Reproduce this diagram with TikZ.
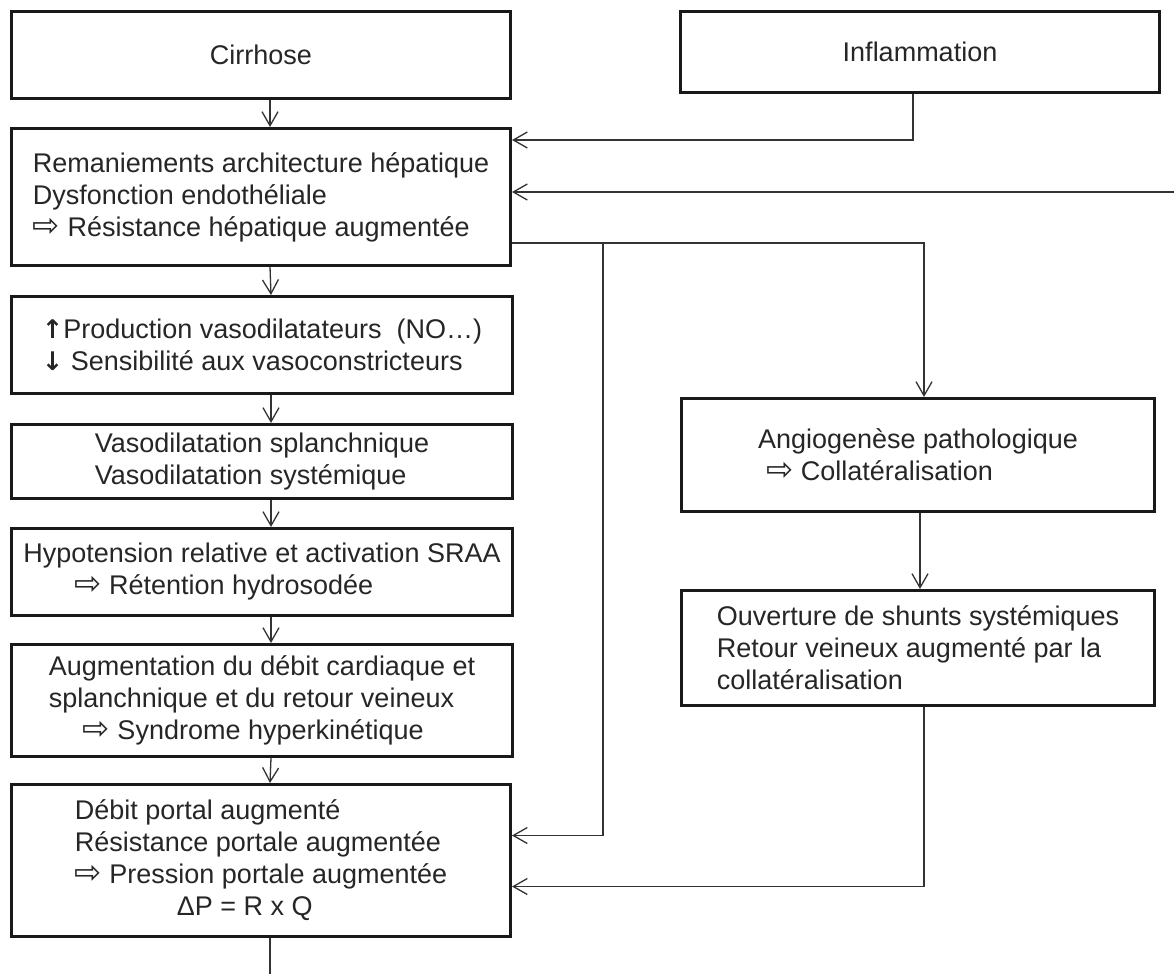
\documentclass[tikz,border=0pt]{standalone}
\usepackage{fontspec}
\setmainfont{Liberation Sans}
\newfontfamily\symfont[Scale=1.2]{DejaVu Sans}
\newfontfamily\flechefont[Scale=0.95]{DejaVu Sans}
\usetikzlibrary{arrows.meta}
\newcommand{\impl}{{\symfont ⇨}}

\begin{document}
\begin{tikzpicture}[x=1pt, y=-1pt,
    boite/.style={draw=black!90, line width=3pt, inner sep=0pt, align=left,
        text=black!85, font=\fontsize{27}{32}\selectfont},
    fleche/.style={draw=black!80, line width=1.3pt,
        -{Straight Barb[length=14pt,width=16pt]}},
    trait/.style={draw=black!80, line width=1.3pt}]
    \useasboundingbox[fill=white] (0,0) rectangle (1174,974);

    % left column
    \node[boite, minimum width=499pt, minimum height=87pt] (cirrhose) at (261,55) {\raisebox{-6pt}{Cirrhose}};
    \node[boite, minimum width=499pt, minimum height=137pt] (remaniements) at (261,197)
        {Remaniements architecture hépatique\\Dysfonction endothéliale\\\impl{} Résistance hépatique augmentée};
    \node[boite, minimum width=501pt, minimum height=97pt] (production) at (262,345)
        {{\flechefont\bfseries ↑}Production vasodilatateurs\ \ (NO…)\\{\flechefont\bfseries ↓} Sensibilité aux vasoconstricteurs};
    \node[boite, minimum width=501pt, minimum height=74pt] (vasodil) at (262,461.5)
        {Vasodilatation splanchnique\\Vasodilatation systémique};
    \node[boite, minimum width=501pt, minimum height=87pt] (hypotension) at (262,572)
        {Hypotension relative et activation SRAA\\\hspace*{51pt}\impl{} Rétention hydrosodée};
    \node[boite, minimum width=501pt, minimum height=112pt] (augmentation) at (262,700.5)
        {Augmentation du débit cardiaque et\\splanchnique et du retour veineux\\\hspace*{34pt}\impl{} Syndrome hyperkinétique};
    \node[boite, minimum width=499pt, minimum height=152pt] (debit) at (261,860.5)
        {Débit portal augmenté\\Résistance portale augmentée\\\impl{} Pression portale augmentée\\\hspace*{102pt}ΔP = R x Q};

    % right column
    \node[boite, minimum width=479pt, minimum height=81pt] (inflammation) at (920,52) {Inflammation};
    \node[boite, minimum width=473pt, minimum height=113pt] (angio) at (918,455)
        {Angiogenèse pathologique\\\hspace*{8pt}\impl{} Collatéralisation};
    \node[boite, minimum width=473pt, minimum height=115pt] (ouverture) at (918,648)
        {Ouverture de shunts systémiques\\Retour veineux augmenté par la\\collatéralisation};

    \coordinate (retour) at (1174,192);
    \coordinate (branche) at (603,243);
    \coordinate (sortie) at (270,974);

    \foreach \a/\b in {cirrhose/remaniements, remaniements/production, production/vasodil,
        vasodil/hypotension, hypotension/augmentation, augmentation/debit}
        \draw[fleche] ([xshift=9pt]\a.south) -- ([xshift=9pt]\b.north);
    \draw[trait] ([xshift=9pt]debit.south) -- (sortie);

    \draw[fleche] ([xshift=-7pt]inflammation.south) |- ([yshift=57pt]remaniements.east);
    \draw[fleche] (retour) -- (retour -| remaniements.east);
    \draw[fleche] ([yshift=-46pt]remaniements.east) -| ([xshift=6pt]angio.north);
    \draw[fleche] (branche) |- ([yshift=25pt]debit.east);
    \draw[fleche] ([xshift=2pt]angio.south) -- ([xshift=2pt]ouverture.north);
    \draw[fleche] ([xshift=6pt]ouverture.south) |- ([yshift=-26pt]debit.east);
\end{tikzpicture}
\end{document}
